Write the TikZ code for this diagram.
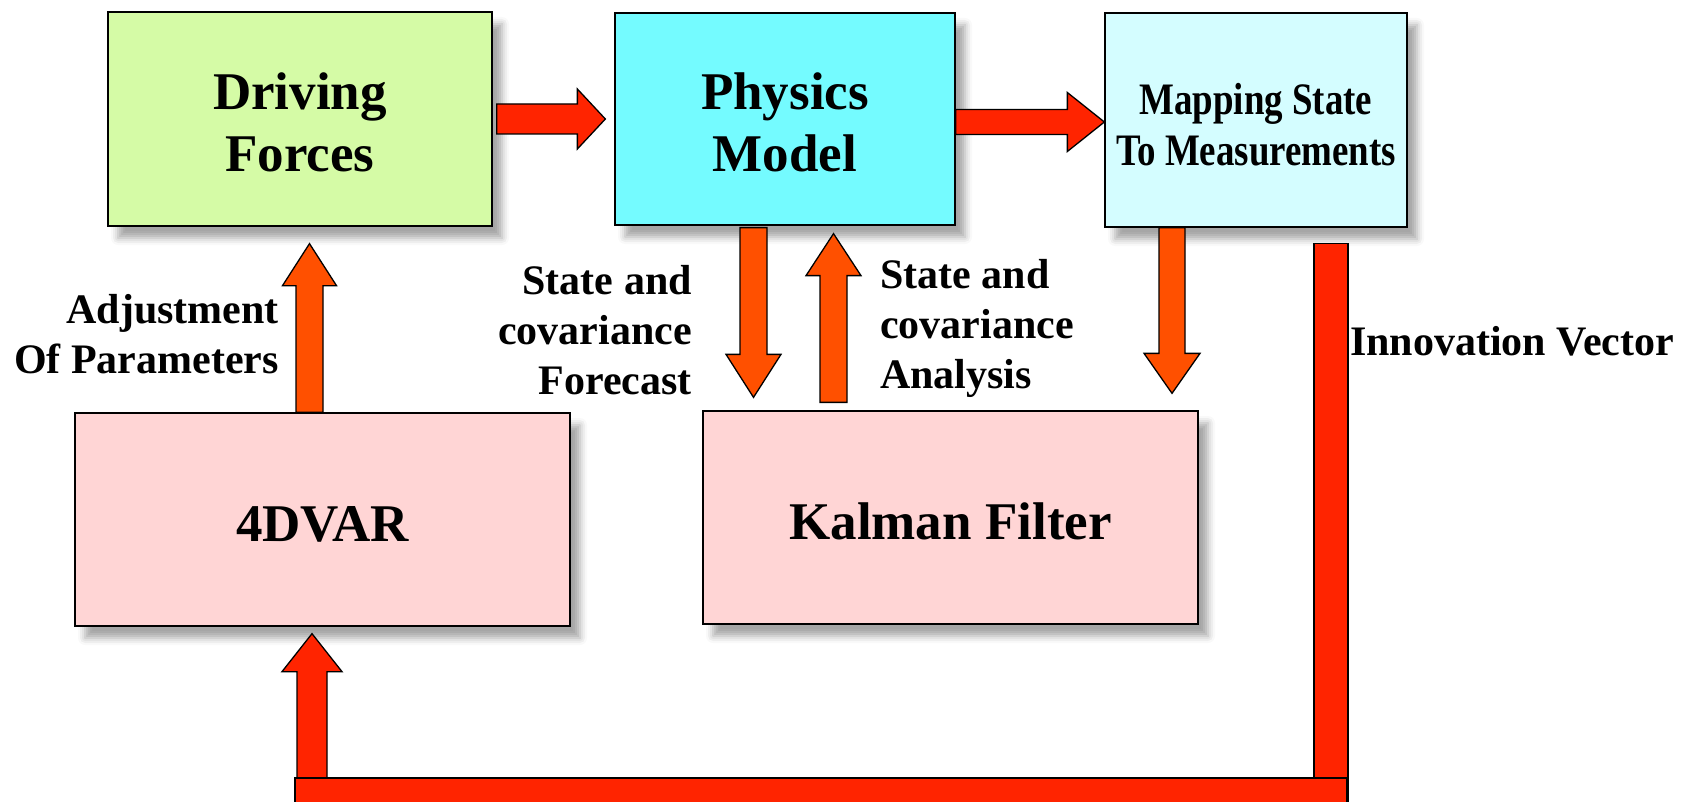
\documentclass[tikz,border=0pt]{standalone}
\usepackage{fontspec}
\setmainfont{Liberation Serif}
\newfontfamily\mapfont[FakeStretch=0.82]{Liberation Serif}
\usetikzlibrary{calc,shadows.blur}
\definecolor{Cdrive}{HTML}{D5FBA6}
\definecolor{Cphys}{HTML}{74FBFF}
\definecolor{Cmap}{HTML}{D4FDFF}
\definecolor{Cfilt}{HTML}{FFD5D5}
\definecolor{Cred}{HTML}{FF2400}
\definecolor{Corg}{HTML}{FF5000}
\newcommand{\topgap}[1]{\rule{0pt}{#1pt}}

\tikzset{
  box/.style={draw=black, line width=1.3pt, align=center,
    font=\bfseries\fontsize{53}{62}\selectfont,
    blur shadow={shadow xshift=10pt, shadow yshift=-12pt,
      shadow blur radius=7pt, shadow opacity=35}},
  lbl/.style={inner sep=0pt, font=\bfseries\fontsize{42}{50}\selectfont},
  blk/.style={draw=black, line width=1.3pt, line join=miter}
}

%% vertical block arrow: colour, from, to (only y of "to"), shaft half, head half, head length
\newcommand{\vblock}[6]{%
  \draw[blk, fill=#1] let \p1=(#2), \p2=(#3),
    \n1={\y2-#6*(\y2-\y1)/abs(\y2-\y1)} in
    (\x1-#4pt,\y1) -- (\x1-#4pt,\n1) -- (\x1-#5pt,\n1)
    -- (\x1,\y2) -- (\x1+#5pt,\n1) -- (\x1+#4pt,\n1)
    -- (\x1+#4pt,\y1) -- cycle;}

%% horizontal block arrow, left to right
\newcommand{\hblock}[6]{%
  \draw[blk, fill=#1] let \p1=(#2), \p2=(#3) in
    (\x1,\y1+#4pt) -- (\x2-#6pt,\y1+#4pt) -- (\x2-#6pt,\y1+#5pt)
    -- (\x2,\y1) -- (\x2-#6pt,\y1-#5pt) -- (\x2-#6pt,\y1-#4pt)
    -- (\x1,\y1-#4pt) -- cycle;}

\begin{document}
\begin{tikzpicture}[x=1pt, y=-1pt]
  \useasboundingbox (0,0) rectangle (1683,802);
  \clip (0,0) rectangle (1683,802);

  %% boxes
  \node[box, fill=Cdrive, minimum width=384, minimum height=214] (drive) at (300,119)
    {\topgap{44}Driving\\Forces};
  \node[box, fill=Cphys, minimum width=340, minimum height=212] (phys) at (785,119)
    {\topgap{44}Physics\\Model};
  \node[box, fill=Cmap, minimum width=302, minimum height=214,
    font=\mapfont\bfseries\fontsize{45}{51}\selectfont] (map) at (1256,120)
    {\topgap{40}Mapping State\\To Measurements};
  \node[box, fill=Cfilt, minimum width=495, minimum height=213] (var) at (322.5,519.5)
    {\topgap{44}4DVAR};
  \node[box, fill=Cfilt, minimum width=495, minimum height=213] (kal) at (950.5,517.5)
    {\topgap{44}Kalman Filter};

  %% labels
  \node[lbl, align=right, anchor=east] (adjlbl) at (279,334) {Adjustment\\Of Parameters};
  \node[lbl, align=right, anchor=east] (fclbl) at (692,330) {State and\\covariance\\Forecast};
  \node[lbl, align=left, anchor=west] (anlbl) at (880,328) {State and\\covariance\\Analysis};
  \node[lbl, anchor=west] (innlbl) at (1350,341) {Innovation Vector};

  %% top row arrows
  \hblock{Cred}{$(drive.east)+(4,0)$}{$(phys.west)+(-9,0)$}{15}{30}{28}
  \hblock{Cred}{$(phys.east)+(0,3)$}{map.west}{12.5}{29.5}{37}

  %% forecast / analysis
  \vblock{Corg}{$(phys.south)+(-31.5,2)$}{$(kal.north)+(0,-13)$}{13.5}{27.5}{43}
  \vblock{Corg}{$(kal.north)+(-117,-8)$}{$(phys.south)+(0,8)$}{13.5}{27.5}{42}

  %% mapping down to filter, 4DVAR up to forces
  \vblock{Corg}{$(map.south)+(-84,0)$}{$(kal.north)+(0,-17)$}{13}{28}{40}
  \vblock{Corg}{$(var.north)+(-13,0)$}{$(drive.south)+(0,17)$}{13.5}{27}{42}

  %% innovation vector loop
  \coordinate (lowR) at (1348,830);
  \coordinate (lowL) at (295,778);
  \draw[blk, fill=Cred] ($(map.south)+(58,16)$) rectangle (lowR);
  \vblock{Cred}{$(var.south)+(-10.5,157)$}{$(var.south)+(0,7)$}{15}{30}{38}
  \draw[blk, fill=Cred] (lowL) rectangle ($(lowR)+(-1,0)$);
\end{tikzpicture}
\end{document}
